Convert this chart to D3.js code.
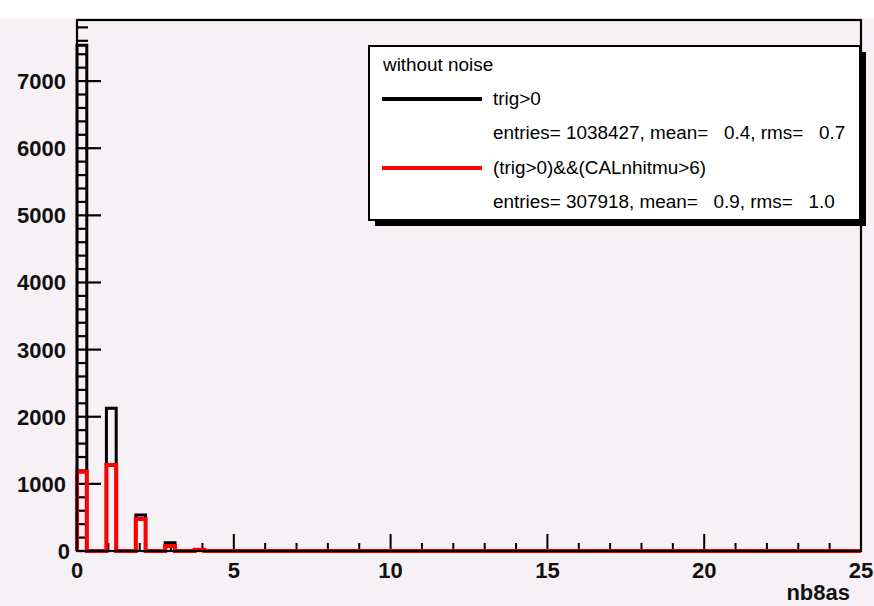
<!DOCTYPE html>
<html>
<head>
<meta charset="utf-8">
<script src="https://cdn.jsdelivr.net/npm/d3@7"></script>
<style>
	body { margin: 0; background: #ffffff; }
	svg { display: block; font-family: "Liberation Sans", Arial, Helvetica, sans-serif; }
	.lg { font-size: 18.9px; white-space: pre; }
</style>
</head>
<body>
<svg id="chart" width="874" height="606"></svg>
<script>
// histogram: 80 bins from 0 to 25
const nBins = 80;
const xRange = [0, 25];
const yRange = [0, 7910];

const trigCounts = [
	7535, 0, 0, 2125, 0, 0, 536, 0, 0, 124,
	0, 0, 20, 0, 0, 0, 0, 0, 0, 0,
	0, 0, 0, 0, 0, 0, 0, 0, 0, 0,
	0, 0, 0, 0, 0, 0, 0, 0, 0, 0,
	0, 0, 0, 0, 0, 0, 0, 0, 0, 0,
	0, 0, 0, 0, 0, 0, 0, 0, 0, 0,
	0, 0, 0, 0, 0, 0, 0, 0, 0, 0,
	0, 0, 0, 0, 0, 0, 0, 0, 0, 0,
];
const calCounts = [
	1181, 0, 0, 1281, 0, 0, 477, 0, 0, 75,
	0, 0, 20, 0, 0, 0, 0, 0, 0, 0,
	0, 0, 0, 0, 0, 0, 0, 0, 0, 0,
	0, 0, 0, 0, 0, 0, 0, 0, 0, 0,
	0, 0, 0, 0, 0, 0, 0, 0, 0, 0,
	0, 0, 0, 0, 0, 0, 0, 0, 0, 0,
	0, 0, 0, 0, 0, 0, 0, 0, 0, 0,
	0, 0, 0, 0, 0, 0, 0, 0, 0, 0,
];

const xMajor = [0, 5, 10, 15, 20, 25];
const yMajor = [0, 1000, 2000, 3000, 4000, 5000, 6000, 7000];

const legendTitle = "without noise";
const legendRows = [
	{ name: "trig>0", stats: "entries= 1038427, mean=   0.4, rms=   0.7", colour: "#000000" },
	{ name: "(trig>0)&&(CALnhitmu>6)", stats: "entries= 307918, mean=   0.9, rms=   1.0", colour: "#ff0000" },
];

const svg = d3.select("#chart");
const frame = { left: 77, right: 861, top: 20, bottom: 551 };

svg.append("rect")
	.attr("x", 0).attr("y", 18)
	.attr("width", 874).attr("height", 588)
	.attr("fill", "#f5f1f5");

let x = d3.scaleLinear().domain(xRange).range([frame.left, frame.right]);
let y = d3.scaleLinear().domain(yRange).range([frame.bottom, frame.top]);

// step outline like a ROOT histogram
function histPath(counts) {
	const w = (xRange[1] - xRange[0]) / nBins;
	let p = d3.path();
	p.moveTo(x(xRange[0]), y(0));
	counts.forEach((c, i) => {
		p.lineTo(x(xRange[0] + i * w), y(c));
		p.lineTo(x(xRange[0] + (i + 1) * w), y(c));
	});
	p.lineTo(x(xRange[1]), y(0));
	return p.toString();
}

svg.append("path")
	.attr("d", histPath(trigCounts))
	.attr("fill", "none")
	.attr("stroke", "#000")
	.attr("stroke-width", 3);

// minor ticks (y every 200, x every 1)
let yMinor = d3.range(0, yRange[1], 200);
let xMinor = d3.range(xRange[0], xRange[1] + 1, 1);

svg.selectAll(".ymin")
	.data(yMinor)
	.enter()
	.append("line")
	.attr("x1", frame.left).attr("x2", (d) => frame.left + (d % 1000 === 0 ? 24 : 11))
	.attr("y1", (d) => y(d)).attr("y2", (d) => y(d))
	.attr("stroke", "#000").attr("stroke-width", 2.2);

svg.selectAll(".xmin")
	.data(xMinor)
	.enter()
	.append("line")
	.attr("x1", (d) => x(d)).attr("x2", (d) => x(d))
	.attr("y1", frame.bottom).attr("y2", (d) => frame.bottom - (d % 5 === 0 ? 17 : 8))
	.attr("stroke", "#000").attr("stroke-width", 2);

svg.append("path")
	.attr("d", histPath(calCounts))
	.attr("fill", "none")
	.attr("stroke", "#ff0000")
	.attr("stroke-width", 4);

svg.append("rect")
	.attr("x", frame.left).attr("y", frame.top)
	.attr("width", frame.right - frame.left)
	.attr("height", frame.bottom - frame.top)
	.attr("fill", "none")
	.attr("stroke", "#000")
	.attr("stroke-width", 2.2);

// tick labels
svg.selectAll(".ylab")
	.data(yMajor)
	.enter()
	.append("text")
	.attr("x", (d) => (d === 0 ? 70 : 66))
	.attr("y", (d) => y(d) + 8)
	.attr("text-anchor", "end")
	.attr("font-size", 22)
	.attr("font-weight", "bold")
	.attr("fill", "#111")
	.text((d) => d);

svg.selectAll(".xlab")
	.data(xMajor)
	.enter()
	.append("text")
	.attr("x", (d) => x(d))
	.attr("y", 578)
	.attr("text-anchor", "middle")
	.attr("font-size", 22)
	.attr("font-weight", "bold")
	.attr("fill", "#111")
	.text((d) => d);

svg.append("text")
	.attr("x", 850).attr("y", 600)
	.attr("text-anchor", "end")
	.attr("font-size", 22)
	.attr("font-weight", "bold")
	.attr("fill", "#111")
	.text("nb8as");

// legend box with shadow
let lg = { x: 369, y: 46, w: 491, h: 174 };
svg.append("rect")
	.attr("x", lg.x + 6).attr("y", lg.y + 6)
	.attr("width", lg.w).attr("height", lg.h)
	.attr("fill", "#000");
svg.append("rect")
	.attr("x", lg.x).attr("y", lg.y)
	.attr("width", lg.w).attr("height", lg.h)
	.attr("fill", "#fff")
	.attr("stroke", "#000")
	.attr("stroke-width", 2);

svg.append("text")
	.attr("class", "lg")
	.attr("x", 383).attr("y", 71)
	.text(legendTitle);

legendRows.forEach(function (r, i) {
	let base = 104.5 + i * 69;
	svg.append("line")
		.attr("x1", 382).attr("x2", 482)
		.attr("y1", base - 5.5).attr("y2", base - 5.5)
		.attr("stroke", r.colour)
		.attr("stroke-width", 4);
	svg.append("text")
		.attr("class", "lg")
		.attr("x", 493).attr("y", base)
		.text(r.name);
	svg.append("text")
		.attr("class", "lg")
		.attr("x", 493).attr("y", base + 34.5)
		.text(r.stats);
});
</script>
</body>
</html>
